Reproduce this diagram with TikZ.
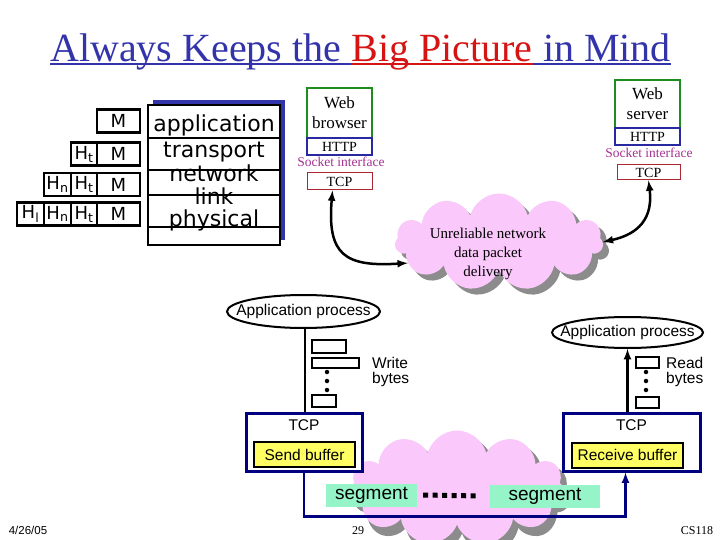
\documentclass[tikz,border=0pt]{standalone}
\usepackage{fontspec}
\setmainfont{Liberation Serif}
\setsansfont{Liberation Sans}
\newfontfamily\comicfont{DejaVu Sans}
\usetikzlibrary{positioning,arrows,shapes.geometric,shapes.symbols,shadows}

\definecolor{titleblue}{RGB}{51,51,170}
\definecolor{titlered}{RGB}{215,20,20}
\definecolor{boxgreen}{RGB}{30,140,30}
\definecolor{httpblue}{RGB}{40,40,160}
\definecolor{tcpred}{RGB}{170,40,50}
\definecolor{sockpurple}{RGB}{165,50,145}
\definecolor{cloudpink}{RGB}{250,200,250}
\definecolor{navy}{RGB}{0,0,128}
\definecolor{segfill}{RGB}{150,245,200}
\definecolor{bufyellow}{RGB}{255,255,100}

\begin{document}
\begin{tikzpicture}[x=1pt,y=-1pt,>=latex,
		titlepart/.style={inner sep=0pt,text=titleblue,font=\fontsize{40}{40}\selectfont},
		hdr/.style={draw,line width=2.5pt,outer sep=0pt,inner sep=0pt,minimum height=23pt,
			font=\comicfont\fontsize{18}{18}\selectfont},
		layer/.style={anchor=base,inner sep=0pt,font=\comicfont\fontsize{22}{22}\selectfont},
		webbox/.style={draw=boxgreen,line width=2.5pt,outer sep=0pt,minimum width=65pt,inner sep=0pt,
			align=center,font=\fontsize{17}{20}\selectfont},
		httpbox/.style={draw=httpblue,line width=2.5pt,outer sep=0pt,minimum width=65pt,minimum height=17pt,
			inner sep=0pt,font=\fontsize{14}{14}\selectfont},
		sock/.style={text=sockpurple,inner sep=0pt,font=\fontsize{13.5}{13.5}\selectfont},
		tcpbox/.style={draw=tcpred,line width=1pt,minimum width=65pt,minimum height=17pt,inner sep=0pt,
			font=\fontsize{14}{14}\selectfont},
		link arrow/.style={<->,line width=2.5pt},
		netcloud/.style={cloud,cloud puffs=11,aspect=2,fill=cloudpink,inner sep=0pt,
			drop shadow={shadow xshift=6pt,shadow yshift=-6pt,fill=black!45,opacity=1}},
		appproc/.style={ellipse,draw,line width=2pt,fill=white,inner sep=0pt},
		apptext/.style={font=\sffamily\fontsize{15.5}{15}\selectfont},
		byte/.style={draw,line width=2pt,inner sep=0pt,anchor=west},
		bdot/.style={circle,fill,inner sep=0pt,minimum size=4.5pt},
		sendbox/.style={draw=navy,line width=3pt,fill=white,minimum height=58pt,
			label={[apptext,anchor=north,yshift=-5pt]north:TCP}},
		bufbox/.style={draw,line width=2pt,fill=bufyellow,minimum height=25pt,inner sep=0pt,apptext},
		segbox/.style={fill=segfill,inner sep=0pt,minimum height=23pt,font=\sffamily\fontsize{19}{19}\selectfont},
		foot/.style={inner sep=0pt,font=\fontsize{12}{12}\selectfont}
		]
		\useasboundingbox (0,0) rectangle (720,540);
		\clip (0,0) rectangle (720,540);
		\fill[white] (0,0) rectangle (720,540);
		
		% title
		\node[titlepart,anchor=base west] (ttlA) at (50,62) {Always Keeps the\kern.25em};
		\node[titlepart,text=titlered,anchor=base west] (ttlB) at (ttlA.base east) {Big Picture};
		\node[titlepart,anchor=base west] (ttlC) at (ttlB.base east) {\ in Mind};
		\foreach \part/\col in {ttlA/titleblue,ttlB/titlered,ttlC/titleblue}
			\draw[\col,line width=2pt] ([yshift=-2.5pt]\part.base west) -- ([yshift=-2.5pt]\part.base east);
		
		% layer stack
		\node[draw,line width=2.5pt,fill=white,minimum width=132pt,minimum height=140pt,outer sep=0pt,
			drop shadow={shadow xshift=5pt,shadow yshift=5pt,fill=titleblue,opacity=1}] (stack) at (214,175) {};
		\foreach \yy in {138,170,195,227}
			\draw[line width=2pt] (stack.west |- 0,\yy) -- (stack.east |- 0,\yy);
		\node[layer] (lapp) at (214,132) {application};
		\node[layer] (ltrans) at (214,158) {transport};
		\node[layer] (lnet) at (214,182) {network};
		\node[layer] (llink) at (214,205) {link};
		\node[layer] (lphys) at (214,226) {physical};
		
		% headers
		\node[hdr,minimum width=43pt] (m1) at (118.5,121) {M};
		\node[hdr,minimum width=43pt] (m2) at (118.5,154) {M};
		\node[hdr,minimum width=26pt,left=0pt of m2] (t2) {H\textsubscript{t}};
		\node[hdr,minimum width=43pt] (m3) at (118.5,184.5) {M};
		\node[hdr,minimum width=26pt,left=0pt of m3] (t3) {H\textsubscript{t}};
		\node[hdr,minimum width=27pt,left=0pt of t3] (n3) {H\textsubscript{n}};
		\node[hdr,minimum width=43pt] (m4) at (118.5,214) {M};
		\node[hdr,minimum width=26pt,left=0pt of m4] (t4) {H\textsubscript{t}};
		\node[hdr,minimum width=27pt,left=0pt of t4] (n4) {H\textsubscript{n}};
		\node[hdr,minimum width=27pt,left=0pt of n4] (l4) {H\textsubscript{l}};
		
		% web browser side
		\node[webbox,minimum height=50pt] (browser) at (339.5,113) {Web\\browser};
		\node[httpbox,below=0pt of browser] (bhttp) {HTTP};
		\node[sock] (bsock) at (341,162) {Socket interface};
		\node[tcpbox] (btcp) at (339.5,181.5) {TCP};
		
		% web server side
		\node[webbox,minimum height=48pt] (server) at (647.5,104) {Web\\server};
		\node[httpbox,below=0pt of server] (shttp) {HTTP};
		\node[sock] (ssock) at (649,153) {Socket interface};
		\node[tcpbox,minimum width=63pt,minimum height=15pt] (stcp) at (648.5,172.5) {TCP};
		
		% network cloud
		\node[netcloud,minimum width=208pt,minimum height=97pt] (inet) at (499,242) {};
		\node[align=center,font=\fontsize{15}{19}\selectfont] (inettxt) at (488,254)
			{Unreliable network\\data packet\\delivery};
		\draw[link arrow] ([xshift=-7pt]btcp.south) .. controls (327,255) and (345,267) .. (inet.193);
		\draw[link arrow] (stcp.south) .. controls (654,225) and (630,236) .. (inet.east);
		
		% bottom: byte stream over tcp
		\node[netcloud,minimum width=215pt,minimum height=115pt,
			drop shadow={shadow xshift=5pt,shadow yshift=-9pt,fill=black!45,opacity=1}] (segnet) at (457,488) {};
		
		\node[sendbox,minimum width=116pt] (sendtcp) at (304,442) {};
		\node[sendbox,minimum width=137pt] (recvtcp) at (631.5,442) {};
		\node[bufbox,minimum width=101pt] (sendbuf) at (304.5,454.5) {Send buffer};
		\node[bufbox,minimum width=111pt] (recvbuf) at (627.5,455) {Receive buffer};
		
		\draw[navy,line width=2.5pt,->] (sendtcp.south) -- ++(0,44) -| ([xshift=-6pt]recvtcp.south);
		\node[segbox,minimum width=91pt] (segA) at (371.5,495) {segment};
		\node[segbox,minimum width=110pt] (segB) at (545,496) {segment};
		\draw[line width=5pt,dash pattern=on 5pt off 4.5pt] ([xshift=6pt]segA.east) -- ([xshift=-10pt]segB.west);
		
		\node[appproc,minimum width=153pt,minimum height=33pt,label={[apptext]center:Application process}]
			(sendapp) at (303.5,311.5) {};
		\node[appproc,minimum width=151pt,minimum height=31pt,label={[apptext]center:Application process}]
			(recvapp) at (627.5,332.5) {};
		\draw[line width=2.5pt] ([xshift=1.5pt]sendapp.south) -- ([xshift=1.5pt]sendapp.south |- sendtcp.north);
		\draw[line width=2.5pt,->] (recvapp.south |- recvtcp.north) -- (recvapp.south);
		
		% written bytes
		\node[byte,minimum width=34pt,minimum height=13pt] (wb1) at (311,346.5) {};
		\node[byte,minimum width=47pt,minimum height=10pt] (wb2) at (311,363) {};
		\node[byte,minimum width=24pt,minimum height=12pt] (wb3) at (311,401) {};
		\foreach \yy in {372,381,390}
			\node[bdot] (wd\yy) at (327,\yy) {};
		\node[apptext,anchor=west,align=left,inner sep=0pt] (wtxt) at (372,372) {Write\\bytes};
		
		% read bytes
		\node[byte,minimum width=23pt,minimum height=11pt] (rb1) at (635,362.5) {};
		\node[byte,minimum width=23pt,minimum height=11pt] (rb2) at (635,402.5) {};
		\foreach \yy in {372,381,390}
			\node[bdot] (rd\yy) at (646,\yy) {};
		\node[apptext,anchor=west,align=left,inner sep=0pt] (rtxt) at (666,372) {Read\\bytes};
		
		% footer
		\node[foot,font=\sffamily\fontsize{11.5}{11.5}\selectfont] (date) at (28,530) {4/26/05};
		\node[foot] (pgno) at (358,531) {29};
		\node[foot] (course) at (697,531) {CS118};
	\end{tikzpicture}
\end{document}
